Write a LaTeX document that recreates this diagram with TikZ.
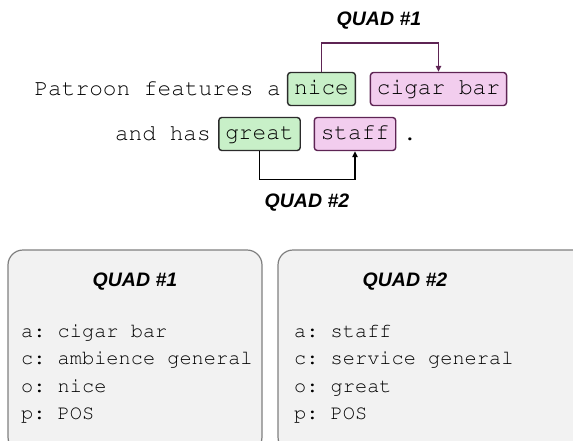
\documentclass[tikz,border=0pt]{standalone}
\usepackage{fontspec}
\newfontfamily\quadfont{Liberation Sans}
\newcommand\wordfont{\fontencoding{T1}\fontfamily{pcr}\selectfont\frenchspacing}
\usetikzlibrary{arrows.meta}
\definecolor{opfill}{HTML}{C8F0C8}
\definecolor{opdraw}{HTML}{2B2B2B}
\definecolor{asfill}{HTML}{F2CDEE}
\definecolor{asdraw}{HTML}{5E2454}
\definecolor{cardfill}{HTML}{F2F2F2}
\definecolor{carddraw}{HTML}{7F7F7F}
\begin{document}
\begin{tikzpicture}[x=1pt,y=-1pt]
% Set styles for sentence words, opinion/aspect boxes and quad cards
\tikzstyle{Word}=[inner sep=0pt,font=\fontsize{22.8}{27}\wordfont]
\tikzstyle{Opinion}=[Word,draw=opdraw,fill=opfill,line width=1.4pt,rounded corners=3pt,inner xsep=6.5pt,minimum height=33pt,text height=17pt,text depth=5.7pt]
\tikzstyle{Aspect}=[Opinion,draw=asdraw,fill=asfill]
\tikzstyle{Quad}=[font=\quadfont\bfseries\itshape\fontsize{19.5}{22}\selectfont]
\tikzstyle{Card}=[draw=carddraw,fill=cardfill,line width=1.2pt,rounded corners=15pt]
\tikzstyle{Line}=[inner sep=0pt,anchor=base west,font=\fontsize{20.3}{24}\wordfont]
\tikzstyle{Link}=[line width=1.4pt,-{Triangle[length=6pt,width=5.5pt]}]
\useasboundingbox (0,0) rectangle (573,440);
% Sentence
\node[Word,anchor=base east] (s1) at (281,95) {Patroon features a};
\node[Opinion] (nice) at (321.5,89) {nice};
\node[Aspect] (cigar) at (438.5,89) {cigar bar};
\node[Word,anchor=base east] (s2) at (211,140) {and has};
\node[Opinion] (great) at (259.5,134) {great};
\node[Aspect] (staff) at (355,134) {staff};
\node[Word,anchor=base west] (dot) at (403,140) {.};
% Links
\draw[Link,draw=asdraw] (nice.north) -- ++(0,-29) -| (cigar.north);
\draw[Link,draw=black] (great.south) -- ++(0,28) -| (staff.south);
\node[Quad] (q1) at (379,21) {QUAD \#1};
\node[Quad] (q2) at (307,203) {QUAD \#2};
% Cards
\draw[Card] (8,250) rectangle (262,452);
\draw[Card] (278,250) rectangle (590,452);
\node[Quad] (c1) at (135,282) {QUAD \#1};
\node[Quad] (c2) at (405,282) {QUAD \#2};
\foreach [count=\i] \x/\t in {
    21/a: cigar bar, 21/c: ambience general, 21/o: nice, 21/p: POS,
    294/a: staff, 294/c: service general, 294/o: great, 294/p: POS}
  \node[Line] (l\i) at (\x,{337+27.5*mod(\i-1,4)}) {\t};
\end{tikzpicture}
\end{document}
